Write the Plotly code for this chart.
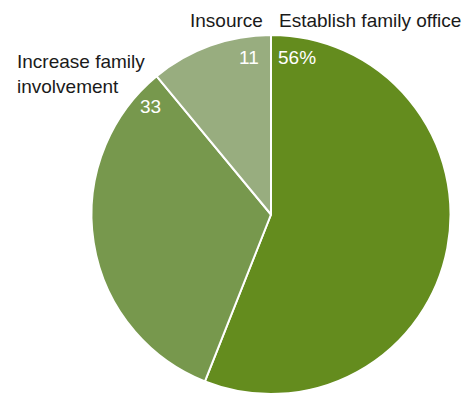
import plotly.graph_objects as go

# Share of respondents by planned approach
categories = ["Establish family office", "Increase family involvement", "Insource"]
values = [56, 33, 11]
value_labels = ["56%", "33", "11"]
colors = ["#648c1e", "#77984d", "#98ad7f"]

W, H = 464, 394
FONT = "Liberation Sans"
SIZE = 19

fig = go.Figure(
    go.Pie(
        labels=categories,
        values=values,
        sort=False,
        direction="clockwise",
        rotation=0,
        textinfo="none",
        hoverinfo="label+value",
        marker=dict(colors=colors, line=dict(color="white", width=2)),
        domain=dict(x=[90 / W, 452 / W], y=[0 / H, 359 / H]),
        showlegend=False,
    )
)

def px(x, y):
    return x / W, 1 - y / H

annotations = []
# category names outside the pie
for text, (x, y), anchor in [
    (categories[0], (277, 20), "left"),
    (categories[2], (265, 20), "right"),
    ("Increase family<br>involvement", (15, 74), "left"),
]:
    ax, ay = px(x, y)
    annotations.append(dict(
        x=ax, y=ay, xref="paper", yref="paper", text=text, showarrow=False,
        xanchor=anchor, yanchor="middle", align="left",
        font=dict(family=FONT, size=SIZE, color="#1a1a1a"),
    ))

# values inside the slices
for text, (x, y), anchor in [
    (value_labels[0], (276, 57), "left"),
    (value_labels[2], (261, 57), "right"),
    (value_labels[1], (138, 106), "left"),
]:
    ax, ay = px(x, y)
    annotations.append(dict(
        x=ax, y=ay, xref="paper", yref="paper", text=text, showarrow=False,
        xanchor=anchor, yanchor="middle",
        font=dict(family=FONT, size=SIZE, color="white"),
    ))

fig.update_layout(
    width=W, height=H,
    margin=dict(l=0, r=0, t=0, b=0),
    paper_bgcolor="white", plot_bgcolor="white",
    annotations=annotations,
)

fig.write_html("out.html")
